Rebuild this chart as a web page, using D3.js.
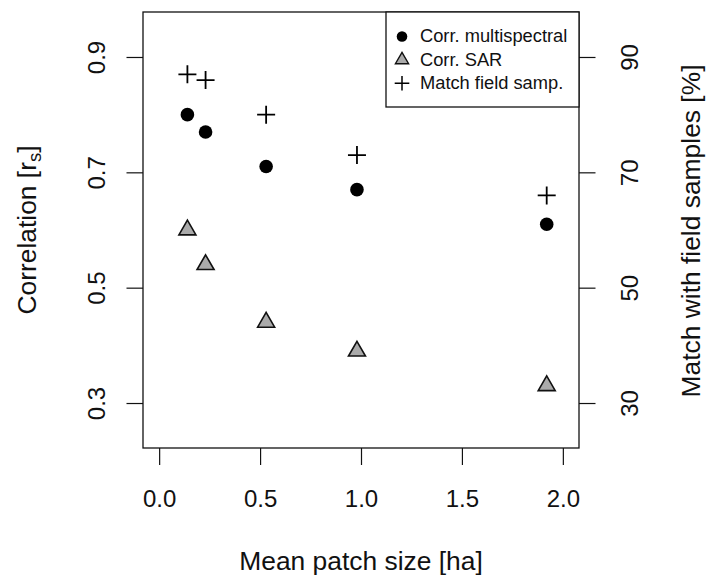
<!DOCTYPE html>
<html>
<head>
<meta charset="utf-8">
<script src="https://cdn.jsdelivr.net/npm/d3@7"></script>
<style>
  body { margin: 0; background: #fff; }
  svg { font-family: "Liberation Sans", Arial, sans-serif; }
</style>
</head>
<body>
<svg width="706" height="575"></svg>
<script>
// mean patch size [ha]
var patchSize = [0.14, 0.23, 0.53, 0.98, 1.92];
// spearman correlation
var corrMulti = [0.80, 0.77, 0.71, 0.67, 0.61];
var corrSAR = [0.60, 0.54, 0.44, 0.39, 0.33];
// match with field samples [%]
var matchField = [87, 86, 80, 73, 66];

var xTicks = [0, 0.5, 1, 1.5, 2];
var yTicks = [0.3, 0.5, 0.7, 0.9];
var yRTicks = [30, 50, 70, 90];
var legendLabels = ["Corr. multispectral", "Corr. SAR", "Match field samp."];

var svg = d3.select("svg");
var pLeft = 143, pTop = 12, pRight = 579, pBottom = 448;

// R style 4% axis extension
var x = d3.scaleLinear().domain([-0.08, 2.08]).range([pLeft, pRight]);
var y = d3.scaleLinear().domain([0.222, 0.978]).range([pBottom, pTop]);
var yR = d3.scaleLinear().domain([22.2, 97.8]).range([pBottom, pTop]);

function triangle(s) {
    var r = s * 1.1547, yc = r / 2;
    return "M0," + (-r) + "L" + s + "," + yc + "L" + (-s) + "," + yc + "Z";
}
function plus(s) {
    return "M" + (-s) + ",0H" + s + "M0," + (-s) + "V" + s;
}

// x axis
var gx = svg.append("g")
    .attr("transform", "translate(0," + pBottom + ")")
    .call(d3.axisBottom(x).tickValues(xTicks).tickSize(17).tickFormat(d3.format(".1f")));
gx.select(".domain").remove();
gx.selectAll("line").attr("stroke", "#111").attr("stroke-width", 1.2);
gx.selectAll("text").attr("dy", null).attr("y", 58.7)
    .attr("font-size", 24).attr("font-family", null).attr("fill", "#111");

// left axis
var gy = svg.append("g")
    .attr("transform", "translate(" + pLeft + ",0)")
    .call(d3.axisLeft(y).tickValues(yTicks).tickSize(16.5).tickFormat(d3.format(".1f")));
gy.select(".domain").remove();
gy.selectAll("line").attr("stroke", "#111").attr("stroke-width", 1.2);
gy.selectAll("text").attr("dy", null).attr("x", null)
    .attr("transform", "translate(-38,0) rotate(-90)")
    .attr("text-anchor", "middle")
    .attr("font-size", 24).attr("font-family", null).attr("fill", "#111");

// right axis
var gr = svg.append("g")
    .attr("transform", "translate(" + pRight + ",0)")
    .call(d3.axisRight(yR).tickValues(yRTicks).tickSize(16.5));
gr.select(".domain").remove();
gr.selectAll("line").attr("stroke", "#111").attr("stroke-width", 1.2);
gr.selectAll("text").attr("dy", null).attr("x", null)
    .attr("transform", "translate(59,0) rotate(-90)")
    .attr("text-anchor", "middle")
    .attr("font-size", 24).attr("font-family", null).attr("fill", "#111");

// plot box
svg.append("rect")
    .attr("x", pLeft).attr("y", pTop)
    .attr("width", pRight - pLeft).attr("height", pBottom - pTop)
    .attr("fill", "none").attr("stroke", "#111").attr("stroke-width", 1.3);

// axis titles
svg.append("text")
    .attr("x", (pLeft + pRight) / 2).attr("y", 570)
    .attr("text-anchor", "middle").attr("font-size", 26.4).attr("fill", "#111")
    .text("Mean patch size [ha]");

var ylab = svg.append("text")
    .attr("transform", "translate(36," + ((pTop + pBottom) / 2) + ") rotate(-90)")
    .attr("text-anchor", "middle").attr("font-size", 26.4).attr("fill", "#111");
ylab.append("tspan").text("Correlation [r");
ylab.append("tspan").attr("font-size", 18.5).attr("dy", 5).text("s");
ylab.append("tspan").attr("dy", -5).text("]");

svg.append("text")
    .attr("transform", "translate(700," + ((pTop + pBottom) / 2 + 1) + ") rotate(-90)")
    .attr("text-anchor", "middle").attr("font-size", 26.4).attr("fill", "#111")
    .text("Match with field samples [%]");

// points
var pts = svg.append("g");
pts.selectAll(".multi").data(patchSize).enter().append("circle")
    .attr("class", "multi")
    .attr("cx", function (d) {return x(d);})
    .attr("cy", function (d, i) {return y(corrMulti[i]);})
    .attr("r", 6.8).attr("fill", "#000");

pts.selectAll(".sar").data(patchSize).enter().append("path")
    .attr("class", "sar")
    .attr("d", triangle(8.5))
    .attr("transform", function (d, i) {return "translate(" + x(d) + "," + y(corrSAR[i]) + ")";})
    .attr("fill", "#aaaaaa").attr("stroke", "#111").attr("stroke-width", 1.6);

pts.selectAll(".match").data(patchSize).enter().append("path")
    .attr("class", "match")
    .attr("d", plus(9))
    .attr("transform", function (d, i) {return "translate(" + x(d) + "," + yR(matchField[i]) + ")";})
    .attr("fill", "none").attr("stroke", "#000").attr("stroke-width", 1.8);

// legend
var lg = svg.append("g");
lg.append("rect")
    .attr("x", 386).attr("y", pTop)
    .attr("width", pRight - 386).attr("height", 95)
    .attr("fill", "#fff").attr("stroke", "#111").attr("stroke-width", 1.3);

var rows = lg.selectAll(".row").data(legendLabels).enter().append("g")
    .attr("class", "row")
    .attr("transform", function (d, i) {return "translate(402," + (36.5 + i * 23.4) + ")";});

rows.filter(function (d, i) {return i == 0;}).append("circle")
    .attr("r", 5.3).attr("fill", "#000");
rows.filter(function (d, i) {return i == 1;}).append("path")
    .attr("d", triangle(6.6))
    .attr("fill", "#aaaaaa").attr("stroke", "#111").attr("stroke-width", 1.4);
rows.filter(function (d, i) {return i == 2;}).append("path")
    .attr("d", plus(7.3))
    .attr("fill", "none").attr("stroke", "#000").attr("stroke-width", 1.5);

rows.append("text")
    .attr("x", 18).attr("y", 5.8)
    .attr("font-size", 18.3).attr("fill", "#111")
    .text(function (d) {return d;});
</script>
</body>
</html>
